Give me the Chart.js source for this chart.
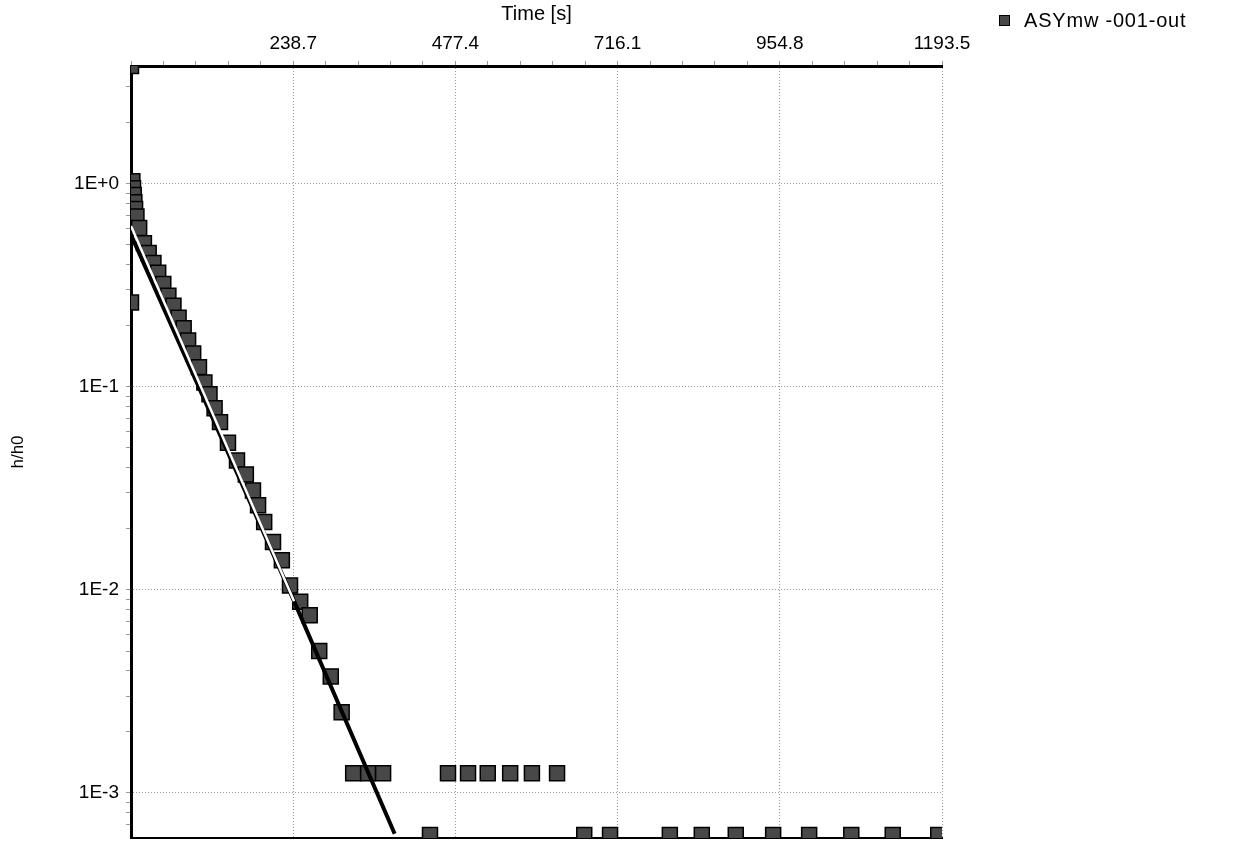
<!DOCTYPE html>
<html>
<head>
<meta charset="UTF-8">
<title>h/h0 vs time</title>
<script src="https://cdn.jsdelivr.net/npm/chart.js@4"></script>
<style>
    body { margin: 0; background: #fff; }
    .wrap { position: relative; width: 1244px; height: 842px; }
    .legend {
        position: absolute; left: 999px; top: 9px;
        font: 20px "Liberation Sans", Arial, sans-serif; color: #000;
        display: flex; align-items: center; letter-spacing: 0.8px;
    }
    .legend .box {
        width: 9px; height: 9px; background: #484848; border: 1px solid #000;
        margin-right: 14px;
    }
</style>
</head>
<body>
<div class="wrap">
    <canvas id="chart"></canvas>
    <div class="legend"><span class="box"></span><span>ASYmw -001-out</span></div>
</div>
<script>
// measured slug test: time [s] and normalised head h/h0
const timeS = [
    0, 0, 2, 3, 4, 5, 6, 8,
    12, 19, 26, 33, 40, 47.5, 55, 62.5, 70, 77.5, 84, 91.5,
    100, 108, 115.5, 123, 131,
    142.7, 156, 169, 179.5, 187, 196, 209, 222, 234, 249, 263, 277, 294, 310,
    327, 349, 371, 440,
    466.5, 496, 525, 558, 590, 627,
    667, 705, 793, 840, 890, 945, 998, 1060, 1121, 1188
];
const hRatio = [
    3.8, 0.26, 1.03, 0.95, 0.88, 0.81, 0.75, 0.69,
    0.605, 0.51, 0.456, 0.407, 0.364, 0.321, 0.281, 0.251, 0.219, 0.194, 0.169, 0.146,
    0.125, 0.105, 0.092, 0.0785, 0.067,
    0.0531, 0.0434, 0.037, 0.0309, 0.0261, 0.0216, 0.0172, 0.014, 0.0105, 0.00875, 0.0075, 0.005, 0.00375, 0.0025,
    0.00125, 0.00125, 0.00125, 0.00062,
    0.00125, 0.00125, 0.00125, 0.00125, 0.00125, 0.00125,
    0.00062, 0.00062, 0.00062, 0.00062, 0.00062, 0.00062, 0.00062, 0.00062, 0.00062, 0.00062
];

// straight-line fit: white trace, with the dark trace that joins it lower down
const fitHiT = [0, 240];
const fitHiH = [0.62, 0.0088];
const fitT = [0, 240, 388];
const fitH = [0.56, 0.0088, 0.00063];

const xStep = 238.7;
const xMax = 1193.5;
const yMin = 0.00064;
const yMax = 3.8;

const toPts = (xs, ys) => xs.map((x, i) => ({ x: x, y: ys[i] }));
const isMajorX = v => Math.abs(v / xStep - Math.round(v / xStep)) < 1e-6;
const isMajorY = v => Math.abs(Math.log10(v) - Math.round(Math.log10(v))) < 1e-6;
const FONT = '"Liberation Sans", Arial, sans-serif';

new Chart(document.getElementById('chart'), {
    type: 'scatter',
    data: {
        datasets: [
            {
                label: 'fit hi',
                data: toPts(fitHiT, fitHiH),
                showLine: true, pointRadius: 0,
                borderColor: '#ffffff', borderWidth: 2.5,
                order: 0
            },
            {
                label: 'fit',
                data: toPts(fitT, fitH),
                showLine: true, pointRadius: 0,
                borderColor: '#000000', borderWidth: 4,
                order: 1
            },
            {
                label: 'ASYmw -001-out',
                data: toPts(timeS, hRatio),
                pointStyle: 'rect',
                pointRadius: 10.6,
                backgroundColor: '#484848',
                borderColor: '#000000',
                borderWidth: 1.5,
                clip: 0,
                order: 2
            }
        ]
    },
    options: {
        responsive: true,
        maintainAspectRatio: false,
        animation: false,
        layout: { autoPadding: false, padding: { left: 0, top: 0, right: 302, bottom: 4 } },
        plugins: {
            legend: { display: false },
            tooltip: { enabled: false }
        },
        scales: {
            x: {
                type: 'linear',
                position: 'top',
                min: 0,
                max: xMax,
                afterBuildTicks: s => {
                    const t = [];
                    for (let i = 0; i <= 25; i++) t.push({ value: +(i * xStep / 5).toFixed(3) });
                    s.ticks = t;
                },
                afterFit: s => { s.height = 66; s.paddingLeft = 0; },
                ticks: {
                    autoSkip: false, maxRotation: 0, padding: 6,
                    color: '#000', font: { family: FONT, size: 19 },
                    callback: v => (isMajorX(v) && v > 0) ? v.toFixed(1) : ''
                },
                grid: {
                    color: c => isMajorX(c.tick.value) ? '#9a9a9a' : 'rgba(0,0,0,0)',
                    lineWidth: 1,
                    tickLength: 5,
                    tickColor: '#999',
                    tickWidth: 1
                },
                border: { display: true, color: '#000', width: 3, dash: [1, 2] },
                title: {
                    display: true, text: 'Time [s]', color: '#000',
                    font: { family: FONT, size: 20 }, padding: { top: 2, bottom: 0 }
                }
            },
            xb: {
                type: 'linear',
                axis: 'x',
                position: 'bottom',
                min: 0,
                max: xMax,
                ticks: { display: false },
                grid: { display: false, drawTicks: false },
                border: { display: true, color: '#000', width: 2 }
            },
            y: {
                type: 'logarithmic',
                min: yMin,
                max: yMax,
                afterBuildTicks: s => {
                    const t = [];
                    for (let e = -4; e <= 0; e++) {
                        for (let m = 1; m <= 9; m++) {
                            const v = m * Math.pow(10, e);
                            if (v >= yMin && v <= yMax) t.push({ value: v });
                        }
                    }
                    s.ticks = t;
                },
                afterFit: s => { s.width = 131; s.paddingTop = 0; s.paddingBottom = 0; },
                ticks: {
                    autoSkip: false, padding: 7,
                    color: '#000', font: { family: FONT, size: 19 },
                    callback: v => {
                        if (!isMajorY(v)) return '';
                        const e = Math.round(Math.log10(v));
                        return '1E' + (e >= 0 ? '+' : '-') + Math.abs(e);
                    }
                },
                grid: {
                    color: c => isMajorY(c.tick.value) ? '#9a9a9a' : 'rgba(0,0,0,0)',
                    lineWidth: 1,
                    tickLength: 5,
                    tickColor: '#999',
                    tickWidth: 1
                },
                border: { display: true, color: '#000', width: 3, dash: [1, 2] },
                title: {
                    display: true, text: 'h/h0', color: '#000',
                    font: { family: FONT, size: 17 }, padding: { top: 8, bottom: 0 }
                }
            }
        }
    }
});
</script>
</body>
</html>
